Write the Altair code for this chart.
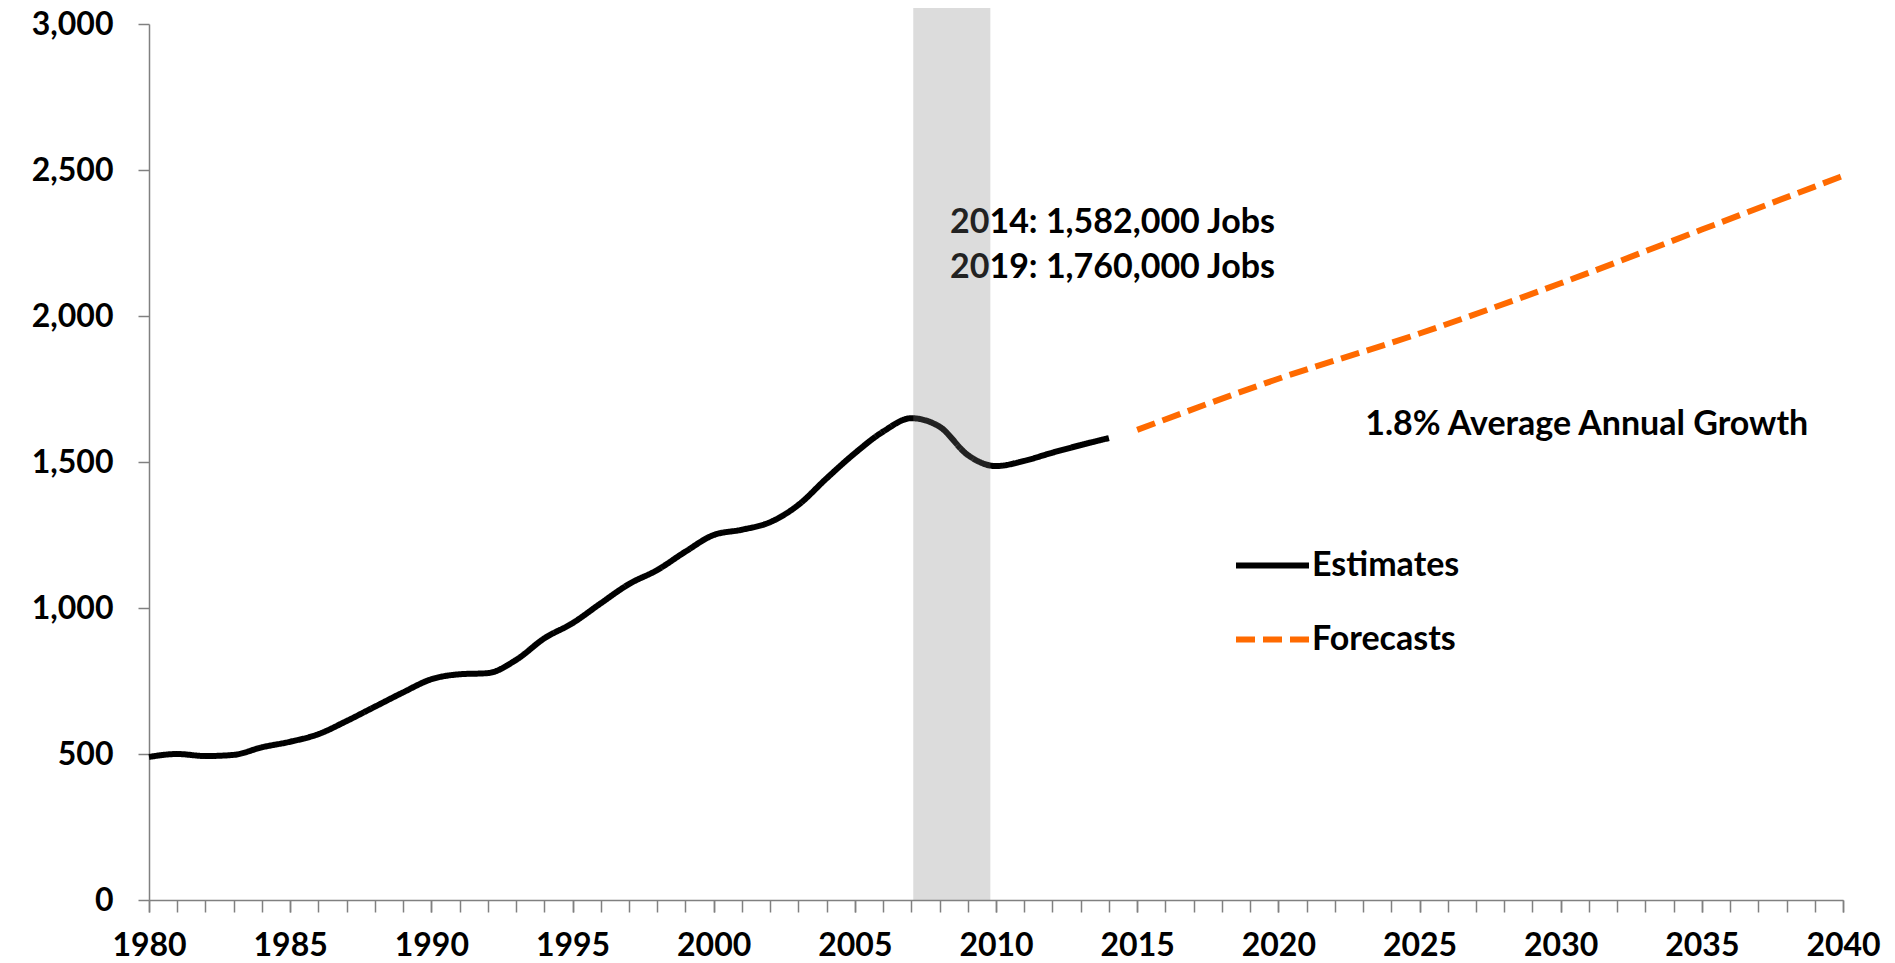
import altair as alt
import pandas as pd

# ---- data (thousands of jobs) ----
est_years = list(range(1980, 2015))
est_values = [490, 500, 493, 497, 523, 542, 568, 613, 662, 711,
              756, 773, 777, 822, 896, 948, 1016, 1082, 1130, 1193,
              1250, 1268, 1294, 1353, 1444, 1530, 1604, 1650, 1621, 1524,
              1486, 1504, 1532, 1558, 1582]
fc_years = [2015, 2020, 2025, 2030, 2035, 2040]
fc_values = [1610, 1785, 1940, 2112, 2296, 2480]
series_names = ["Estimates", "Forecasts"]
series_colors = ["#000000", "#FF6A00"]

recession_start = [2007.07]
recession_end = [2009.8]

ann_years = [2008.37, 2008.37, 2023.08]
ann_values = [2320, 2166, 1628]
ann_labels = ["2014: 1,582,000 Jobs", "2019: 1,760,000 Jobs", "1.8% Average Annual Growth"]

x_major = list(range(1980, 2041, 5))
x_minor = list(range(1980, 2041))
y_ticks = [0, 500, 1000, 1500, 2000, 2500, 3000]

FONT = "Lato"
FS = 34
AXIS_FS = 32
AXIS_GRAY = "#808080"
PLOT_W = 1694
PLOT_H = 876

df = pd.DataFrame({
    "year": est_years + fc_years,
    "jobs": est_values + fc_values,
    "series": ["Estimates"] * len(est_years) + ["Forecasts"] * len(fc_years),
})
shade_df = pd.DataFrame({"start": recession_start, "end": recession_end})
ann_df = pd.DataFrame({"year": ann_years, "jobs": ann_values, "label": ann_labels})
minor_df = pd.DataFrame({"year": x_minor})

x_scale = alt.Scale(domain=[1980, 2040], nice=False, zero=False)
y_scale = alt.Scale(domain=[0, 3000], nice=False)

x_axis = alt.Axis(values=x_major, format="d", orient="bottom",
                  tickSize=12, tickWidth=1.5, tickColor=AXIS_GRAY,
                  domainColor=AXIS_GRAY, domainWidth=1.5,
                  labelFont=FONT, labelFontSize=AXIS_FS, labelFontWeight="bold",
                  labelColor="#000000", labelPadding=18, labelFlush=False,
                  labelOverlap=False, grid=False, title=None)
x_minor_axis = alt.Axis(values=x_minor, orient="bottom", labels=False, domain=False,
                        tickSize=12, tickWidth=1.5, tickColor=AXIS_GRAY,
                        grid=False, title=None)
y_axis = alt.Axis(values=y_ticks, format=",d",
                  tickSize=11, tickWidth=1.5, tickColor=AXIS_GRAY,
                  domainColor=AXIS_GRAY, domainWidth=1.5,
                  labelFont=FONT, labelFontSize=AXIS_FS, labelFontWeight="bold",
                  labelColor="#000000", labelPadding=25, grid=False, title=None)

legend = alt.Legend(title=None, orient="none", legendX=1084, legendY=502,
                    symbolType="stroke", symbolSize=5329, symbolStrokeWidth=6,
                    labelFont=FONT, labelFontSize=FS, labelFontWeight="bold",
                    labelColor="#000000", labelOffset=0, rowPadding=17, padding=0)

lines = alt.Chart(df).mark_line(strokeWidth=6, strokeCap="butt", interpolate="monotone").encode(
    x=alt.X("year:Q", scale=x_scale, axis=x_axis),
    y=alt.Y("jobs:Q", scale=y_scale, axis=y_axis),
    color=alt.Color("series:N", scale=alt.Scale(domain=series_names, range=series_colors), legend=legend),
    strokeDash=alt.StrokeDash("series:N", scale=alt.Scale(domain=series_names, range=[[1, 0], [19, 8]]), legend=legend),
)

minor_ticks = alt.Chart(minor_df).mark_point(opacity=0).encode(
    x=alt.X("year:Q", scale=x_scale, axis=x_minor_axis),
)

texts = alt.Chart(ann_df).mark_text(align="left", baseline="middle", font=FONT,
                                    fontSize=FS, fontWeight="bold", color="#000000").encode(
    x=alt.X("year:Q", scale=x_scale, axis=None),
    y=alt.Y("jobs:Q", scale=y_scale, axis=y_axis),
    text="label:N",
)

shade = alt.Chart(shade_df).mark_rect(color="#7f7f7f", opacity=0.27).encode(
    x=alt.X("start:Q", scale=x_scale, axis=None),
    x2="end:Q",
    y=alt.value(-16),
    y2=alt.value(PLOT_H),
)

chart = alt.layer(minor_ticks, lines, texts, shade).resolve_axis(x="independent").properties(
    width=PLOT_W, height=PLOT_H,
    background="white",
    autosize=alt.AutoSizeParams(type="none"),
    padding={"left": 141, "top": 16, "right": 44, "bottom": 63},
).configure_view(stroke=None)

chart.save("out.html", embed_options={"renderer": "svg", "actions": False})
